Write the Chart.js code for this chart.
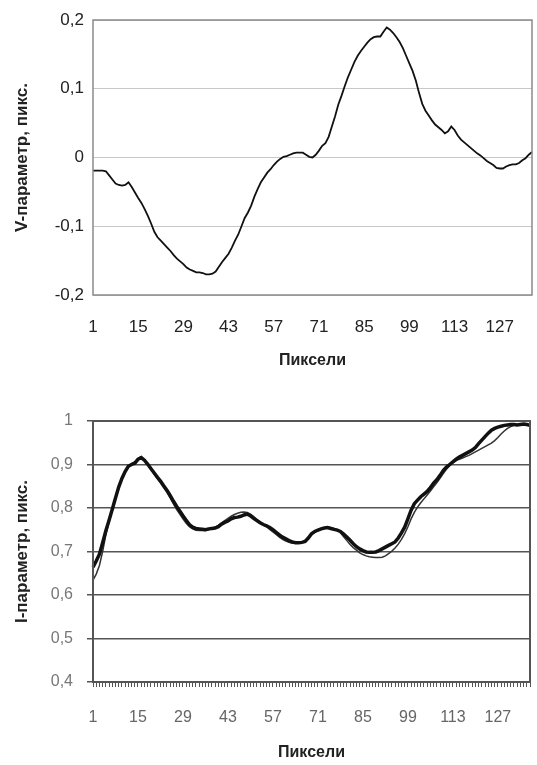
<!DOCTYPE html>
<html>
<head>
<meta charset="utf-8">
<script src="https://cdn.jsdelivr.net/npm/chart.js@4.4.0/dist/chart.umd.min.js"></script>
<style>
  body { margin: 0; background: #fff; }
  .box { position: absolute; left: 0; width: 537px; }
</style>
</head>
<body>
<div class="box" style="top:0;height:370px"><canvas id="vChart" width="537" height="370"></canvas></div>
<div class="box" style="top:385px;height:380px"><canvas id="iChart" width="537" height="380"></canvas></div>
<script>
// V-parameter, pixels (137 samples)
const vParam = [
  -0.019, -0.019, -0.019, -0.019, -0.020, -0.026, -0.032, -0.038, -0.040, -0.041,
  -0.040, -0.036, -0.043, -0.051, -0.059, -0.066, -0.075, -0.085, -0.096, -0.108,
  -0.116, -0.121, -0.126, -0.131, -0.136, -0.142, -0.147, -0.151, -0.155, -0.160,
  -0.163, -0.165, -0.167, -0.167, -0.168, -0.170, -0.170, -0.169, -0.166, -0.159,
  -0.152, -0.146, -0.140, -0.131, -0.121, -0.112, -0.100, -0.088, -0.080, -0.070,
  -0.057, -0.046, -0.036, -0.029, -0.022, -0.017, -0.011, -0.006, -0.002, 0.001,
  0.002, 0.004, 0.006, 0.007, 0.007, 0.007, 0.004, 0.001, 0.000, 0.004,
  0.010, 0.017, 0.021, 0.030, 0.045, 0.060, 0.077, 0.090, 0.104, 0.117,
  0.128, 0.139, 0.148, 0.155, 0.161, 0.167, 0.172, 0.175, 0.176, 0.176,
  0.183, 0.189, 0.186, 0.181, 0.175, 0.168, 0.159, 0.148, 0.137, 0.126,
  0.112, 0.094, 0.078, 0.068, 0.061, 0.054, 0.048, 0.044, 0.040, 0.035,
  0.038, 0.045, 0.040, 0.032, 0.026, 0.022, 0.018, 0.014, 0.010, 0.006,
  0.003, -0.001, -0.005, -0.008, -0.011, -0.015, -0.016, -0.016, -0.013, -0.011,
  -0.010, -0.010, -0.008, -0.004, -0.001, 0.004, 0.008
];

// I-parameter, pixels: thick curve
const iParamA = [
  0.664, 0.678, 0.694, 0.720, 0.748, 0.772, 0.797, 0.823, 0.848, 0.868,
  0.884, 0.896, 0.900, 0.903, 0.912, 0.916, 0.910, 0.901, 0.891, 0.881,
  0.871, 0.862, 0.851, 0.841, 0.829, 0.816, 0.804, 0.793, 0.782, 0.772,
  0.762, 0.756, 0.753, 0.752, 0.751, 0.750, 0.752, 0.753, 0.754, 0.757,
  0.763, 0.767, 0.770, 0.775, 0.778, 0.779, 0.781, 0.784, 0.786, 0.782,
  0.776, 0.771, 0.766, 0.762, 0.759, 0.755, 0.750, 0.744, 0.738, 0.733,
  0.729, 0.725, 0.722, 0.720, 0.720, 0.721, 0.723, 0.731, 0.741, 0.746,
  0.749, 0.752, 0.754, 0.755, 0.753, 0.751, 0.749, 0.746, 0.740, 0.733,
  0.726, 0.718, 0.711, 0.706, 0.702, 0.699, 0.698, 0.698, 0.699, 0.702,
  0.706, 0.710, 0.714, 0.718, 0.722, 0.731, 0.743, 0.756, 0.775, 0.795,
  0.810, 0.818, 0.826, 0.832, 0.838, 0.847, 0.857, 0.865, 0.875, 0.886,
  0.894, 0.900, 0.906, 0.912, 0.917, 0.921, 0.925, 0.929, 0.933, 0.939,
  0.948, 0.956, 0.964, 0.972, 0.979, 0.983, 0.986, 0.988, 0.990, 0.991,
  0.992, 0.992, 0.991, 0.992, 0.993, 0.992, 0.990
];

// I-parameter, pixels: thin curve
const iParamB = [
  0.634, 0.648, 0.668, 0.700, 0.738, 0.768, 0.795, 0.821, 0.846, 0.866,
  0.882, 0.895, 0.902, 0.906, 0.914, 0.918, 0.911, 0.900, 0.889, 0.878,
  0.868, 0.858, 0.847, 0.836, 0.823, 0.810, 0.797, 0.786, 0.775, 0.765,
  0.757, 0.752, 0.749, 0.748, 0.748, 0.748, 0.750, 0.753, 0.756, 0.760,
  0.766, 0.771, 0.776, 0.781, 0.785, 0.788, 0.790, 0.791, 0.790, 0.786,
  0.780, 0.774, 0.768, 0.763, 0.757, 0.751, 0.745, 0.739, 0.733, 0.728,
  0.724, 0.721, 0.719, 0.719, 0.719, 0.721, 0.725, 0.731, 0.738, 0.744,
  0.748, 0.751, 0.754, 0.755, 0.755, 0.753, 0.750, 0.743, 0.734, 0.725,
  0.716, 0.709, 0.703, 0.697, 0.693, 0.690, 0.688, 0.687, 0.686, 0.686,
  0.687, 0.690, 0.695, 0.701, 0.708, 0.717, 0.728, 0.741, 0.757, 0.775,
  0.790, 0.802, 0.812, 0.821, 0.830, 0.839, 0.849, 0.858, 0.868, 0.879,
  0.889, 0.897, 0.904, 0.909, 0.912, 0.915, 0.918, 0.921, 0.925, 0.929,
  0.933, 0.937, 0.941, 0.945, 0.949, 0.955, 0.962, 0.970, 0.977, 0.983,
  0.987, 0.990, 0.992, 0.993, 0.993, 0.992, 0.991
];

// pixel numbers along the profile, labelled every 14th
const pixels = vParam.map((_, i) => i + 1);
const xTickLabels = [1, 15, 29, 43, 57, 71, 85, 99, 113, 127];

const FONT = "'Liberation Sans', Arial, sans-serif";

function commaTick(v) {
  const r = Math.round(v * 10) / 10;
  if (r === 0) return "0";
  if (r === 1) return "1";
  return r.toFixed(1).replace(".", ",");
}

function xTick(value, index) {
  const p = pixels[index];
  return xTickLabels.includes(p) ? String(p) : "";
}

// fixed height for the x axis, no extra side padding for labels
function fitX(h) {
  return (s) => {
    s.height = h;
    s.paddingLeft = 0;
    s.paddingRight = 0;
  };
}

// frame around the plot area
function framePlugin(color, width) {
  return {
    id: "frame",
    afterDraw(chart) {
      const a = chart.chartArea;
      const ctx = chart.ctx;
      ctx.save();
      ctx.strokeStyle = color;
      ctx.lineWidth = width;
      ctx.strokeRect(a.left, a.top, a.right - a.left, a.bottom - a.top);
      ctx.restore();
    }
  };
}

new Chart(document.getElementById("vChart"), {
  type: "line",
  data: {
    labels: pixels,
    datasets: [{
      data: vParam,
      borderColor: "#111",
      borderWidth: 1.8,
      pointRadius: 0,
      tension: 0
    }]
  },
  options: {
    responsive: false,
    animation: false,
    layout: { padding: { top: 20, right: 5, left: 0, bottom: 0 } },
    plugins: { legend: { display: false }, tooltip: { enabled: false } },
    scales: {
      x: {
        offset: false,
        afterFit: fitX(75),
        grid: { display: false },
        border: { display: false },
        ticks: {
          autoSkip: false, maxRotation: 0, minRotation: 0, padding: 14,
          color: "#222", font: { family: FONT, size: 17 },
          callback: xTick
        },
        title: {
          display: true, text: "Пиксели", color: "#222",
          font: { family: FONT, size: 16, weight: "bold" }, padding: 0
        }
      },
      y: {
        min: -0.2, max: 0.2,
        afterFit: (s) => { s.width = 93; },
        grid: { color: "#c8c8c8", lineWidth: 1, drawTicks: false },
        border: { display: false },
        ticks: {
          stepSize: 0.1, padding: 9,
          color: "#222", font: { family: FONT, size: 17 },
          callback: commaTick
        },
        title: {
          display: true, text: "V-параметр, пикс.", color: "#222",
          font: { family: FONT, size: 17, weight: "bold" }, padding: { top: 12 }
        }
      }
    }
  },
  plugins: [framePlugin("#8a8a8a", 1.5)]
});

new Chart(document.getElementById("iChart"), {
  type: "line",
  data: {
    labels: pixels,
    datasets: [
      {
        data: iParamA,
        borderColor: "#111",
        borderWidth: 3.5,
        pointRadius: 0,
        tension: 0
      },
      {
        data: iParamB,
        borderColor: "#333",
        borderWidth: 1.5,
        pointRadius: 0,
        tension: 0
      }
    ]
  },
  options: {
    responsive: false,
    animation: false,
    layout: { padding: { top: 36, right: 7, left: 0, bottom: 3 } },
    plugins: { legend: { display: false }, tooltip: { enabled: false } },
    scales: {
      x: {
        offset: false,
        afterFit: fitX(80),
        grid: { drawOnChartArea: false, color: "#555", lineWidth: 1, tickLength: 5 },
        border: { display: false },
        ticks: {
          autoSkip: false, maxRotation: 0, minRotation: 0, padding: 21,
          color: "#666", font: { family: FONT, size: 16 },
          callback: xTick
        },
        title: {
          display: true, text: "Пиксели", color: "#222",
          font: { family: FONT, size: 16, weight: "bold" }, padding: 0
        }
      },
      y: {
        min: 0.4, max: 1,
        afterFit: (s) => { s.width = 93; },
        grid: { color: "#555", lineWidth: 1.5, tickLength: 6 },
        border: { display: false },
        ticks: {
          stepSize: 0.1, padding: 14,
          color: "#777", font: { family: FONT, size: 16 },
          callback: commaTick
        },
        title: {
          display: true, text: "I-параметр, пикс.", color: "#222",
          font: { family: FONT, size: 17, weight: "bold" }, padding: { top: 12 }
        }
      }
    }
  },
  plugins: [framePlugin("#555", 2)]
});
</script>
</body>
</html>
